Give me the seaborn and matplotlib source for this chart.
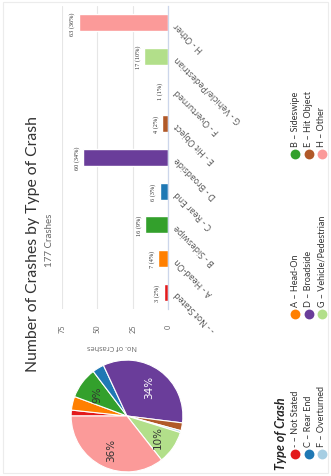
import matplotlib
matplotlib.use("Agg")
import matplotlib.pyplot as plt
from matplotlib.patches import Rectangle
import pandas as pd
import seaborn as sns

# Crashes by type of crash
crash_codes = ["-", "A", "B", "C", "D", "E", "F", "G", "H"]
crash_names = ["Not Stated", "Head-On", "Sideswipe", "Rear End", "Broadside",
               "Hit Object", "Overturned", "Vehicle/Pedestrian", "Other"]
crash_counts = [3, 7, 16, 6, 60, 4, 1, 17, 63]
crash_colors = ["#e31a1c", "#ff7f00", "#33a02c", "#1f78b4", "#6a3d9a",
                "#b15928", "#a6cee3", "#b2df8a", "#fb9a99"]
value_ticks = [0, 25, 50, 75]

title_text = "Number of Crashes by Type of Crash"
legend_title = "Type of Crash"
axis_title = "No. of Crashes"

total = sum(crash_counts)
shares = [round(100 * c / total) for c in crash_counts]
bar_labels = [f"{c} - {n}" for c, n in zip(crash_codes, crash_names)]
legend_labels = [f"{c} \u2013 {n}" for c, n in zip(crash_codes, crash_names)]
df = pd.DataFrame({"type": bar_labels, "count": crash_counts})

W, H = 331, 477
sns.set_style("white")
plt.rcParams["font.family"] = ["Lato", "DejaVu Sans"]

fig = plt.figure(figsize=(W / 100, H / 100), dpi=100)


def box(left, top, right, bottom):
    """Figure-fraction rectangle from pixel edges measured from the top-left."""
    return [left / W, 1 - bottom / H, (right - left) / W, (bottom - top) / H]


# ---- bar panel (the whole chart is laid on its side) ----
ax = fig.add_axes(box(62, 7, 168, 310))
order = bar_labels[::-1]
sns.barplot(data=df, x="count", y="type", hue="type", order=order,
            hue_order=bar_labels, palette=crash_colors, saturation=1,
            width=0.5, orient="h", legend=False, ax=ax)
n = len(bar_labels)
ax.set_xlim(75, 0)
ax.set_ylim(n - 0.5, -0.5)
ax.set_xticks(value_ticks)
ax.set_xticklabels([str(t) for t in value_ticks])
ax.tick_params(axis="x", labelrotation=90, length=0, pad=10.5,
               labelsize=5.2, labelcolor="#666666")
ax.set_yticks([])
ax.set_xlabel("")
ax.set_ylabel("")
ax.grid(axis="x", color="#e6e6e6", lw=0.8)
ax.set_axisbelow(True)
for s in ["top", "bottom", "left"]:
    ax.spines[s].set_visible(False)
ax.spines["right"].set_color("#ccd6eb")
ax.spines["right"].set_linewidth(0.9)

for j, (cnt, pct) in enumerate(zip(crash_counts, shares)):
    ypos = n - 1 - j
    ax.annotate(f"{cnt} ({pct}%)", xy=(cnt, ypos), xytext=(-2.5, 0),
                textcoords="offset points", rotation=90, ha="right", va="center",
                fontsize=4.5, family="Liberation Serif", color="#333333")
    ax.text(1 + 8 / 106, ypos, bar_labels[j], transform=ax.get_yaxis_transform(),
            rotation=135, rotation_mode="anchor", ha="right", va="center",
            fontsize=6.3, color="#555555", family="Open Sans")

# ---- pie panel ----
pax = fig.add_axes(box(70, 360, 184, 474))
wedges, texts, autotexts = pax.pie(
    crash_counts, colors=crash_colors, startangle=180, counterclock=False,
    wedgeprops=dict(edgecolor="white", linewidth=0.8),
    autopct=lambda p: f"{p:.0f}%" if p >= 9 else "", pctdistance=0.66,
    textprops=dict(fontsize=7.5, color="#333333", family="DejaVu Sans"))
for t in autotexts:
    t.set_rotation(90)
autotexts[crash_codes.index("D")].set_color("white")
pax.set_xlim(-1.02, 1.02)
pax.set_ylim(-1.02, 1.02)
pax.set_aspect("equal")

# ---- titles, axis title and legend in pixel space ----
ov = fig.add_axes([0, 0, 1, 1])
ov.set_xlim(0, W)
ov.set_ylim(H, 0)
ov.axis("off")
ov.add_patch(Rectangle((3, 3), W - 6, H - 6, fill=False, ec="#ececec", lw=0.8))

ov.text(33, 244, title_text, rotation=90, ha="center", va="center",
        fontsize=11.3, color="#333333")
ov.text(49, 240, f"{total} Crashes", rotation=90, ha="center", va="center",
        fontsize=7, color="#666666")
ov.text(112, 347, axis_title, rotation=180, ha="center", va="center",
        fontsize=5.3, color="#666666", family="Open Sans")

ov.text(281, 470, legend_title, rotation=90, ha="center", va="bottom",
        fontsize=9, fontweight="bold", fontstyle="italic", color="#222222")
row_x = [295, 308.5, 322]
col_y = [455, 315, 155]
for j, (lab, col) in enumerate(zip(legend_labels, crash_colors)):
    x, y = row_x[j // 3], col_y[j % 3]
    ov.scatter([x], [y], s=50, color=col, linewidths=0)
    ov.text(x, y - 8, lab, rotation=90, ha="center", va="bottom",
            fontsize=6.5, color="#333333")

fig.savefig("out.png", dpi=100)
